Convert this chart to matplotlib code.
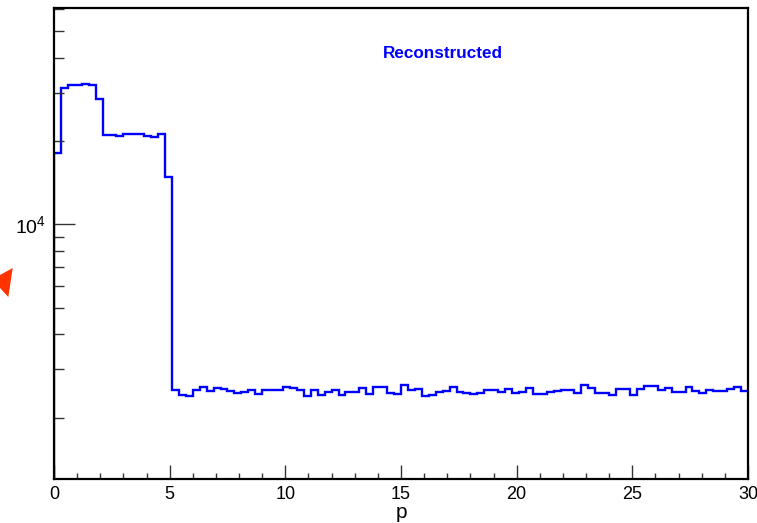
import numpy as np
import matplotlib
matplotlib.use("Agg")
import matplotlib.pyplot as plt
from matplotlib.patches import Polygon
from matplotlib.ticker import LogLocator, FixedLocator, NullFormatter, FixedFormatter

plt.rcParams['font.family'] = ['Liberation Sans', 'DejaVu Sans']
plt.rcParams['mathtext.fontset'] = 'custom'
plt.rcParams['mathtext.rm'] = 'Liberation Sans'
plt.rcParams['mathtext.it'] = 'Liberation Sans:italic'

# Histogram data: 100 bins of width 0.3 from 0 to 30
bin_edges = np.linspace(0.0, 30.0, 101)
counts = [
    18080, 31290, 31890, 32020, 32160, 31890, 28540, 21130, 21010, 20890,
    21310, 21310, 21190, 20840, 20720, 21190, 14900, 2518, 2415, 2387,
    2518, 2582, 2497, 2552, 2530, 2497, 2455, 2468, 2518, 2441,
    2509, 2524, 2518, 2588, 2566, 2518, 2401, 2518, 2407, 2468,
    2509, 2421, 2468, 2482, 2566, 2427, 2588, 2588, 2455, 2435,
    2625, 2524, 2530, 2395, 2407, 2482, 2495, 2573, 2482, 2455,
    2441, 2461, 2518, 2518, 2482, 2539, 2455, 2482, 2552, 2441,
    2441, 2482, 2503, 2509, 2524, 2455, 2616, 2552, 2461, 2455,
    2407, 2530, 2545, 2421, 2530, 2603, 2603, 2518, 2566, 2482,
    2482, 2582, 2497, 2455, 2509, 2497, 2497, 2545, 2588, 2488,
]
x_ticks = [0, 5, 10, 15, 20, 25, 30]
x_ticklabels = ["0", "5", "10", "15", "20", "25", "30"]
y_min, y_max = 1200, 60700
title_text = "Reconstructed"
x_title = "p"

W, H = 757, 523
fig = plt.figure(figsize=(W / 100, H / 100), dpi=100)
L, R, T, B = 54, 748, 8, 479
ax = fig.add_axes([L / W, 1 - B / H, (R - L) / W, (B - T) / H])

ax.stairs(counts, bin_edges, baseline=None, color="#0000ff", linewidth=1.7)
ax.vlines(bin_edges[0], y_min, counts[0], color="#0000ff", linewidth=1.7)

ax.set_yscale("log")
ax.set_xlim(0, 30)
ax.set_ylim(y_min, y_max)

ax.xaxis.set_major_locator(FixedLocator(x_ticks))
ax.xaxis.set_major_formatter(FixedFormatter(x_ticklabels))
ax.xaxis.set_minor_locator(FixedLocator(np.arange(0, 31, 1)))

ax.yaxis.set_major_locator(FixedLocator([1e4]))
ax.yaxis.set_major_formatter(FixedFormatter([r"$10^{4}$"]))
ax.yaxis.set_minor_locator(LogLocator(base=10, subs=np.arange(2, 10), numticks=20))
ax.yaxis.set_minor_formatter(NullFormatter())

ax.tick_params(axis="x", which="major", direction="in", length=10, width=1.0,
               color="#333333", labelsize=13, pad=5)
ax.tick_params(axis="x", which="minor", direction="in", length=4.5, width=1.0,
               color="#333333")
ax.tick_params(axis="y", which="major", direction="in", length=15, width=1.0,
               color="#333333", labelsize=14, pad=6)
ax.tick_params(axis="y", which="minor", direction="in", length=7.5, width=1.0,
               color="#333333")

for s in ax.spines.values():
    s.set_linewidth(1.6)
    s.set_color("black")

ax.set_xlabel(x_title, fontsize=15, labelpad=0)

ax.text(0.5605, 0.904, title_text, transform=ax.transAxes, ha="center", va="center",
        color="#0000ff", fontsize=12.3, fontweight="bold")

# red marker at the left edge of the screenshot
tri = Polygon([(12.7 / W, 1 - 268 / H), (0, 1 - 275 / H), (0, 1 - 288 / H),
               (8.3 / W, 1 - 297 / H)], closed=True, transform=fig.transFigure,
              facecolor="#ff3300", edgecolor="none")
fig.patches.append(tri)

fig.savefig("out.png", dpi=100)
